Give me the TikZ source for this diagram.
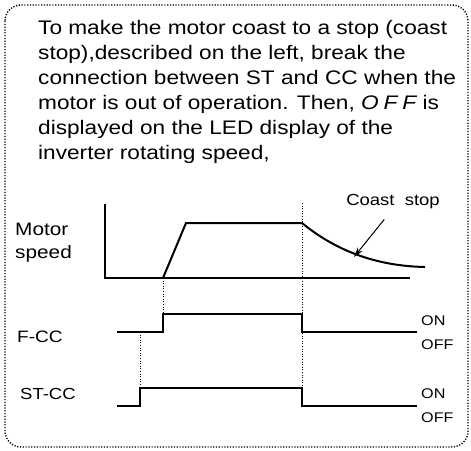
\documentclass[tikz,border=0pt]{standalone}
\usepackage{fontspec}
\setmainfont{Liberation Sans}[FakeStretch=1.155]
\usetikzlibrary{arrows.meta}

\tikzset{
  txt/.style={anchor=base west, inner sep=0pt},
  body/.style={txt, font=\fontsize{19.6}{25}\selectfont},
  onoff/.style={txt, font=\fontsize{14}{17}\selectfont},
  wave/.style={line width=2pt, line join=miter},
  guide/.style={line width=1pt, dash pattern=on 1pt off 1.6pt},
}

\begin{document}
\begin{tikzpicture}[x=1pt,y=-1pt]
\useasboundingbox (0,0) rectangle (471,450);
% frame
\draw[line width=1.4pt, dash pattern=on 1.2pt off 1.6pt, rounded corners=16pt] (5,5) rectangle (468,447);

% explanation
\node[body] (L1) at (38,34) {To make the motor coast to a stop (coast};
\node[body] (L2) at (38,59) {stop),described on the left, break the};
\node[body] (L3) at (38,84) {connection between ST and CC when the};
\node[body] (L4) at (38,109) {motor is out of operation. Then, {\itshape\addfontfeature{LetterSpace=25}OFF} is};
\node[body] (L5) at (38,134) {displayed on the LED display of the};
\node[body] (L6) at (38,159) {inverter rotating speed,};

% labels
\node[txt, font=\fontsize{18}{22}\selectfont] (M1) at (15,235) {Motor};
\node[txt, font=\fontsize{18}{22}\selectfont] (M2) at (15,258) {speed};
\node[txt, font=\fontsize{16.5}{20}\selectfont] (FC) at (17,342) {F-CC};
\node[txt, font=\fontsize{16}{20}\selectfont] (SC) at (20,399) {ST-CC};
\node[onoff] (On1) at (421,325) {ON};
\node[onoff] (Off1) at (421,349) {OFF};
\node[onoff] (On2) at (421,398) {ON};
\node[onoff] (Off2) at (421,422) {OFF};
\node[anchor=base, inner sep=0pt, font=\fontsize{16}{20}\selectfont] (CS) at (393,205) {Coast\ \ stop};

% motor speed
\coordinate (Ytop) at (105,204);
\coordinate (O) at (105,278);
\coordinate (Xend) at (410,278);
\coordinate (R0) at (163,278);
\coordinate (R1) at (186,223);
\coordinate (S0) at (302,223);
\coordinate (S1) at (425,267);
\coordinate (tip) at (354,257);
\draw[wave] (Ytop) -- (O) -- (Xend);
\draw[wave] (R0) -- (R1) -- (S0) .. controls (335,250) and (375,266) .. (S1);
\draw[-{Stealth[length=10pt,width=6pt]}, line width=1pt, shorten <=14pt] (CS.south) -- (tip);

% F-CC
\draw[wave] (117,332) -- (163,332) -- (163,314) -- (302,314) -- (302,332) -- (417,332);
% ST-CC
\draw[wave] (117,406) -- (140,406) -- (140,388) -- (302,388) -- (302,406) -- (417,406);

% timing guides
\draw[guide] (R0) -- (163,314);
\draw[guide] (302,203) -- (302,388);
\draw[guide] (140,332) -- (140,388);
\end{tikzpicture}
\end{document}
